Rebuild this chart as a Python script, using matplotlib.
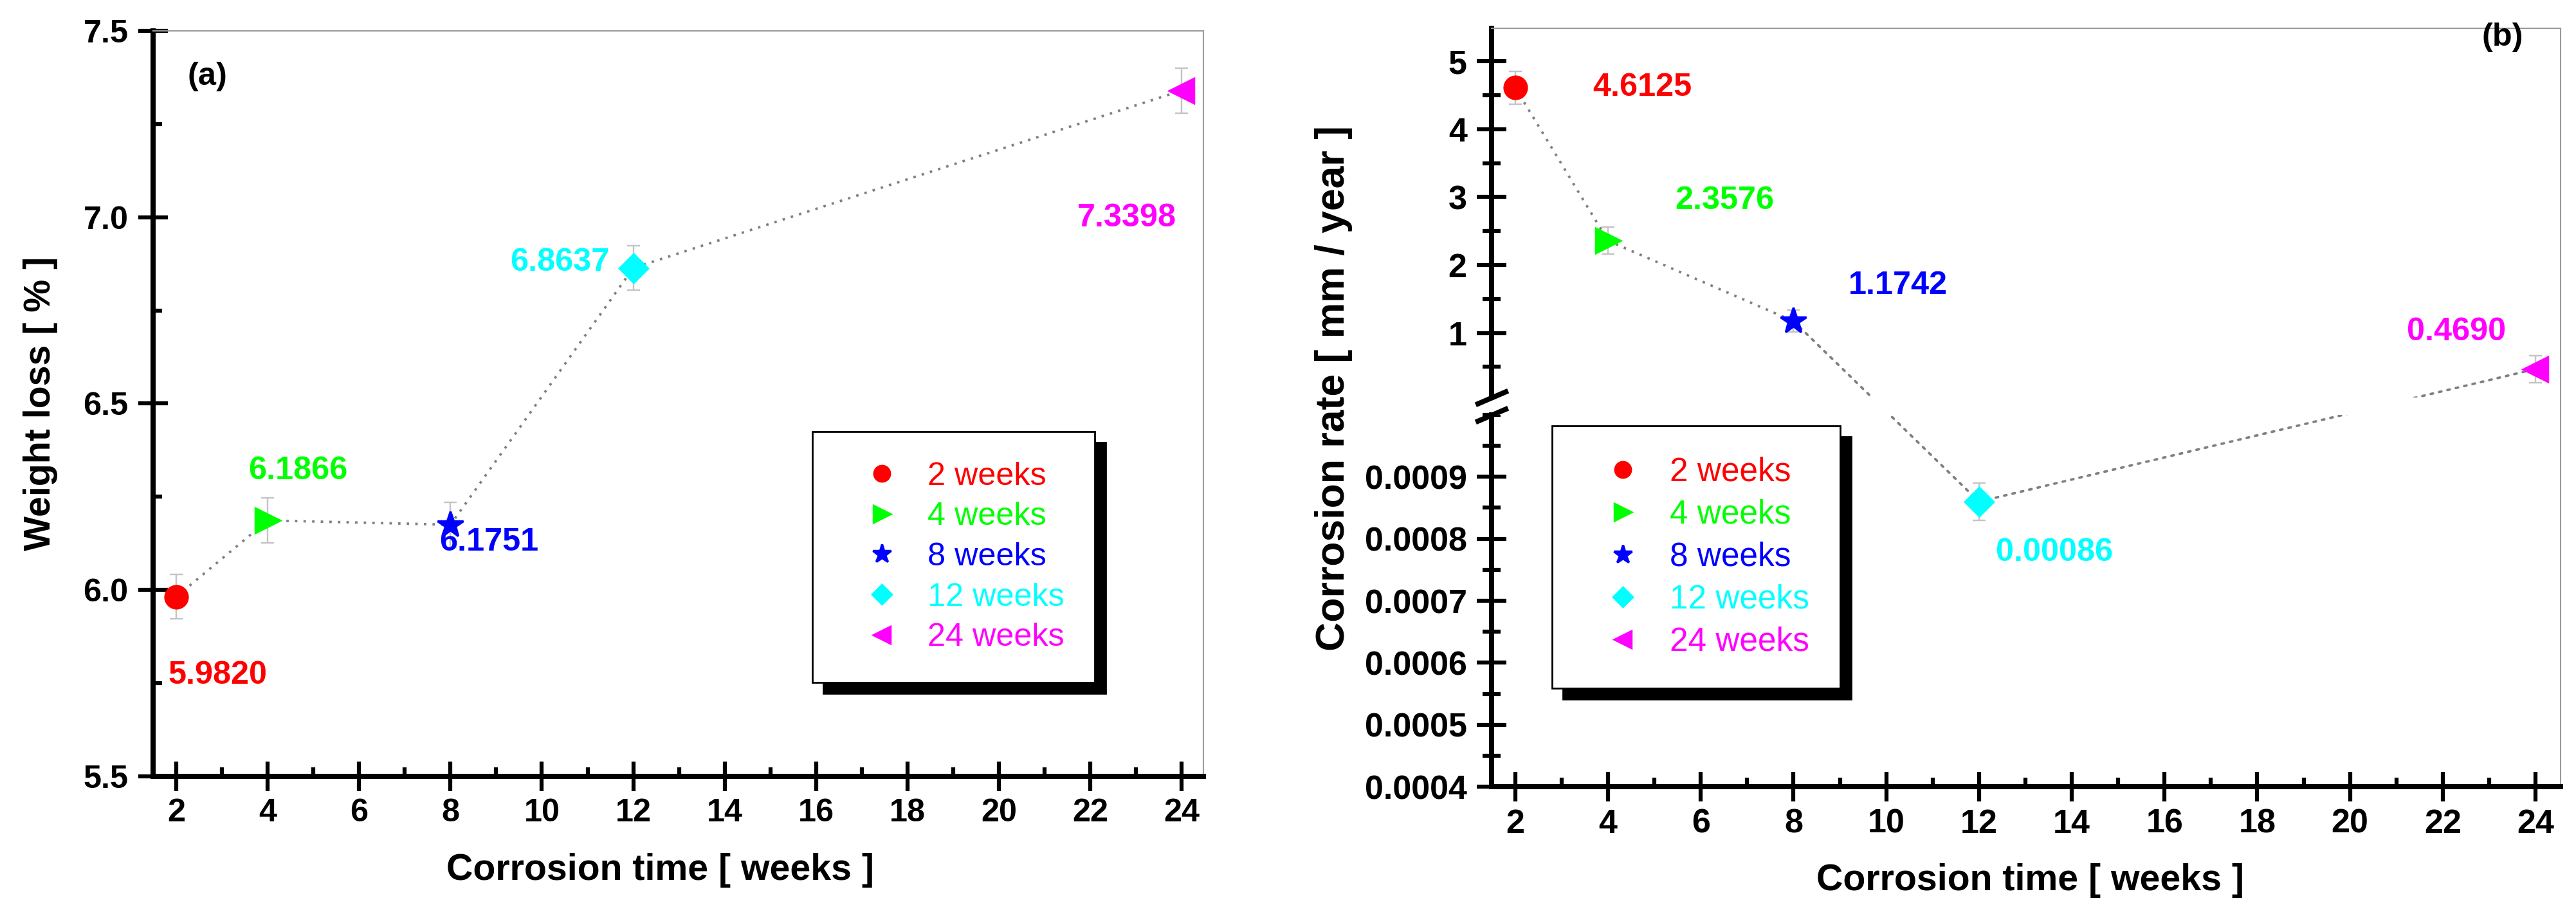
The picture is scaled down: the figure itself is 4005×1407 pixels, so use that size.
import matplotlib
matplotlib.use('Agg')
import matplotlib.pyplot as plt
from matplotlib.patches import ConnectionPatch, Rectangle
from matplotlib.lines import Line2D
from matplotlib.ticker import MultipleLocator, FormatStrFormatter

# ---------------- data ----------------
weeks = [2, 4, 8, 12, 24]
legend_labels = ['2 weeks', '4 weeks', '8 weeks', '12 weeks', '24 weeks']

weight_loss = [5.9820, 6.1866, 6.1751, 6.8637, 7.3398]
weight_loss_err = [0.06, 0.06, 0.06, 0.06, 0.06]
weight_loss_text = ['5.9820', '6.1866', '6.1751', '6.8637', '7.3398']

corrosion_rate = [4.6125, 2.3576, 1.1742, 0.00086, 0.4690]
corrosion_rate_err = [0.24, 0.20, 0.16, 0.00003, 0.20]
corrosion_rate_text = ['4.6125', '2.3576', '1.1742', '0.00086', '0.4690']
in_lower_segment = [False, False, False, True, False]

x_ticks = list(range(2, 25, 2))
weight_ticks = [5.5, 6.0, 6.5, 7.0, 7.5]
rate_ticks_upper = [1, 2, 3, 4, 5]
rate_ticks_lower = [0.0004, 0.0005, 0.0006, 0.0007, 0.0008, 0.0009]

# ---------------- style ----------------
colors = ['#ff0000', '#00ff00', '#0000ff', '#00ffff', '#ff00ff']
markers = ['o', '>', '*', 'D', '<']
msizes = [10, 11, 12, 8.8, 11]
err_color = '#c4c4c4'
line_color = '#808080'
dot_ls = (0, (1, 2.5))
spine_gray = '#9a9a9a'

plt.rcParams['font.family'] = ['Liberation Sans', 'DejaVu Sans']
plt.rcParams['font.weight'] = 'bold'
plt.rcParams['axes.labelweight'] = 'bold'

fig = plt.figure(figsize=(16.02, 5.628), dpi=250)

A_RECT = [0.05943, 0.14215, 0.40774, 0.82374]
B_LEFT, B_W = 0.57903, 0.41498
B_BOT_Y, B_BOT_H = 0.13077, 0.41081
B_TOP_Y, B_TOP_H = 0.56077, 0.40831

ax_a = fig.add_axes(A_RECT)
ax_bot = fig.add_axes([B_LEFT, B_BOT_Y, B_W, B_BOT_H])
ax_top = fig.add_axes([B_LEFT, B_TOP_Y, B_W, B_TOP_H], sharex=ax_bot)
ax_top.set_zorder(1)
ax_top.patch.set_visible(False)


def style(ax, labelsize, yminor_dir):
    for s in ['left', 'bottom']:
        ax.spines[s].set_linewidth(2.3)
        ax.spines[s].set_color('black')
    for s in ['top', 'right']:
        ax.spines[s].set_linewidth(0.6)
        ax.spines[s].set_color(spine_gray)
    ax.tick_params(which='major', direction='inout', length=13.5, width=1.8,
                   top=False, right=False, labelsize=labelsize, color='black')
    ax.tick_params(axis='x', which='minor', direction='in', length=4, width=1.8,
                   top=False)
    ax.tick_params(axis='y', which='minor', direction=yminor_dir,
                   length=(4 if yminor_dir == 'in' else 8), width=1.8, right=False)
    ax.tick_params(axis='x', pad=3)
    ax.tick_params(axis='y', pad=4.3)


leg_kw = dict(loc='upper left', frameon=True, fancybox=False, edgecolor='black',
              framealpha=1, borderpad=0.93, labelspacing=0.33, handlelength=2.43,
              handletextpad=0.2, markerscale=0.7, borderaxespad=0, numpoints=1,
              shadow={'ox': 4.9, 'oy': -4.9, 'color': 'black', 'alpha': 1})

# ---------------- panel (a) ----------------
style(ax_a, 14.5, 'in')
ax_a.plot(weeks, weight_loss, ls=dot_ls, color=line_color, lw=1.1, zorder=1)
ax_a.errorbar(weeks, weight_loss, yerr=weight_loss_err, fmt='none', ecolor=err_color,
              elinewidth=0.7, capsize=2.9, capthick=0.7, zorder=2)
handles_a = []
for x, y, c, m, s, lab in zip(weeks, weight_loss, colors, markers, msizes, legend_labels):
    h, = ax_a.plot([x], [y], ls='none', marker=m, ms=s, color=c, mec=c, zorder=3, label=lab)
    handles_a.append(h)

offsets_a = [(-3.7, -38.9), (-8.6, 18.4), (-5.0, -11.5), (-55.0, -1.2), (-46.7, -60.9)]
for x, y, t, c, off in zip(weeks, weight_loss, weight_loss_text, colors, offsets_a):
    ax_a.annotate(t, xy=(x, y), xytext=off, textcoords='offset points', color=c,
                  fontsize=14.5, fontweight='bold', ha='left', va='baseline')

ax_a.set_xlim(1.49, 24.48)
ax_a.set_ylim(5.5, 7.5)
ax_a.set_xticks(x_ticks)
ax_a.xaxis.set_minor_locator(MultipleLocator(1))
ax_a.set_yticks(weight_ticks)
ax_a.yaxis.set_minor_locator(MultipleLocator(0.25))
ax_a.yaxis.set_major_formatter(FormatStrFormatter('%.1f'))
ax_a.set_xlabel('Corrosion time [ weeks ]', fontsize=16.5, va='top')
ax_a.set_ylabel('Weight loss [ % ]', fontsize=16.5)
ax_a.xaxis.set_label_coords(0.483, -0.1027)
ax_a.yaxis.set_label_coords(-0.0906, 0.5)
ax_a.text(0.0325, 0.9586, '(a)', transform=ax_a.transAxes, fontsize=14.5,
          fontweight='bold', ha='left', va='top')

leg_a = ax_a.legend(handles_a, legend_labels, bbox_to_anchor=(0.6277, 0.4625),
                    prop={'size': 14.5, 'weight': 'normal'}, **leg_kw)
leg_a.get_frame().set_linewidth(0.8)
for t, c in zip(leg_a.get_texts(), colors):
    t.set_color(c)

# ---------------- panel (b) ----------------
style(ax_bot, 15, 'inout')
style(ax_top, 15, 'inout')
ax_top.spines['bottom'].set_visible(False)
ax_bot.spines['top'].set_visible(False)
ax_top.tick_params(axis='x', which='both', bottom=False, labelbottom=False)

ax_bot.set_xlim(1.49, 24.54)
ax_bot.set_xticks(x_ticks)
ax_bot.xaxis.set_minor_locator(MultipleLocator(1))
ax_top.set_ylim(0.05, 5.49)
ax_top.set_yticks(rate_ticks_upper)
ax_top.yaxis.set_minor_locator(MultipleLocator(0.5))
ax_top.yaxis.set_major_formatter(FormatStrFormatter('%d'))
ax_bot.set_ylim(0.0004, 0.001)
ax_bot.set_yticks(rate_ticks_lower)
ax_bot.yaxis.set_minor_locator(MultipleLocator(0.00005))
ax_bot.yaxis.set_major_formatter(FormatStrFormatter('%.4f'))

handles_b = []
for x, y, e, c, m, s, low, lab in zip(weeks, corrosion_rate, corrosion_rate_err, colors,
                                       markers, msizes, in_lower_segment, legend_labels):
    ax = ax_bot if low else ax_top
    ax.errorbar([x], [y], yerr=[e], fmt='none', ecolor=err_color, elinewidth=0.7,
                capsize=2.9, capthick=0.7, zorder=2)
    h, = ax.plot([x], [y], ls='none', marker=m, ms=s, color=c, mec=c, zorder=3, label=lab)
    handles_b.append(h)

# connecting dotted line across the broken axis
for i in range(len(weeks) - 1):
    axA = ax_bot if in_lower_segment[i] else ax_top
    axB = ax_bot if in_lower_segment[i + 1] else ax_top
    if axA is axB:
        axA.plot(weeks[i:i + 2], corrosion_rate[i:i + 2], ls=dot_ls, color=line_color,
                 lw=1.1, zorder=1)
    else:
        con = ConnectionPatch(xyA=(weeks[i], corrosion_rate[i]), coordsA=axA.transData,
                              xyB=(weeks[i + 1], corrosion_rate[i + 1]), coordsB=axB.transData,
                              arrowstyle='-', linestyle=dot_ls, color=line_color, lw=1.1,
                              zorder=1)
        ax_bot.add_artist(con)

# gap of the axis break
gap = Rectangle((B_LEFT + 0.0008, B_BOT_Y + B_BOT_H), B_W - 0.0012,
                B_TOP_Y - (B_BOT_Y + B_BOT_H), transform=fig.transFigure,
                facecolor='white', edgecolor='none', zorder=2, clip_on=False)
ax_bot.add_artist(gap)
ax_bot.add_artist(Line2D([B_LEFT + B_W] * 2, [B_BOT_Y + B_BOT_H, B_TOP_Y],
                         transform=fig.transFigure, color=spine_gray, lw=0.6,
                         zorder=2.5, clip_on=False))

d = 0.43
brk = dict(marker=[(-1, -d), (1, d)], markersize=14.5, linestyle='none', color='k',
           mec='k', mew=2.3, clip_on=False, zorder=10)
ax_top.plot([0], [0], transform=ax_top.transAxes, **brk)
ax_bot.plot([0], [1], transform=ax_bot.transAxes, **brk)

offsets_b = [(34.8, -3.7), (30.0, 14.1), (24.5, 12.1), (7.5, -26.5), (-57.6, 13.0)]
for x, y, t, c, off, low in zip(weeks, corrosion_rate, corrosion_rate_text, colors,
                                offsets_b, in_lower_segment):
    ax = ax_bot if low else ax_top
    ax.annotate(t, xy=(x, y), xytext=off, textcoords='offset points', color=c,
                fontsize=14.5, fontweight='bold', ha='left', va='baseline', zorder=5)

ax_bot.set_xlabel('Corrosion time [ weeks ]', fontsize=16.5, va='top')
ax_bot.xaxis.set_label_coords(0.504, -0.206)
ax_bot.set_ylabel('Corrosion rate [ mm / year ]', fontsize=18)
ax_bot.yaxis.set_label_coords(-0.130, 1.071)
ax_top.text(0.926, 0.975, '(b)', transform=ax_top.transAxes, fontsize=14.5,
            fontweight='bold', ha='left', va='center')

leg_b = ax_bot.legend(handles_b, legend_labels, bbox_to_anchor=(0.0566, 0.9706),
                      prop={'size': 14.8, 'weight': 'normal'}, **leg_kw)
leg_b.get_frame().set_linewidth(0.8)
for t, c in zip(leg_b.get_texts(), colors):
    t.set_color(c)

fig.savefig('out.png', dpi=250, facecolor='white')
